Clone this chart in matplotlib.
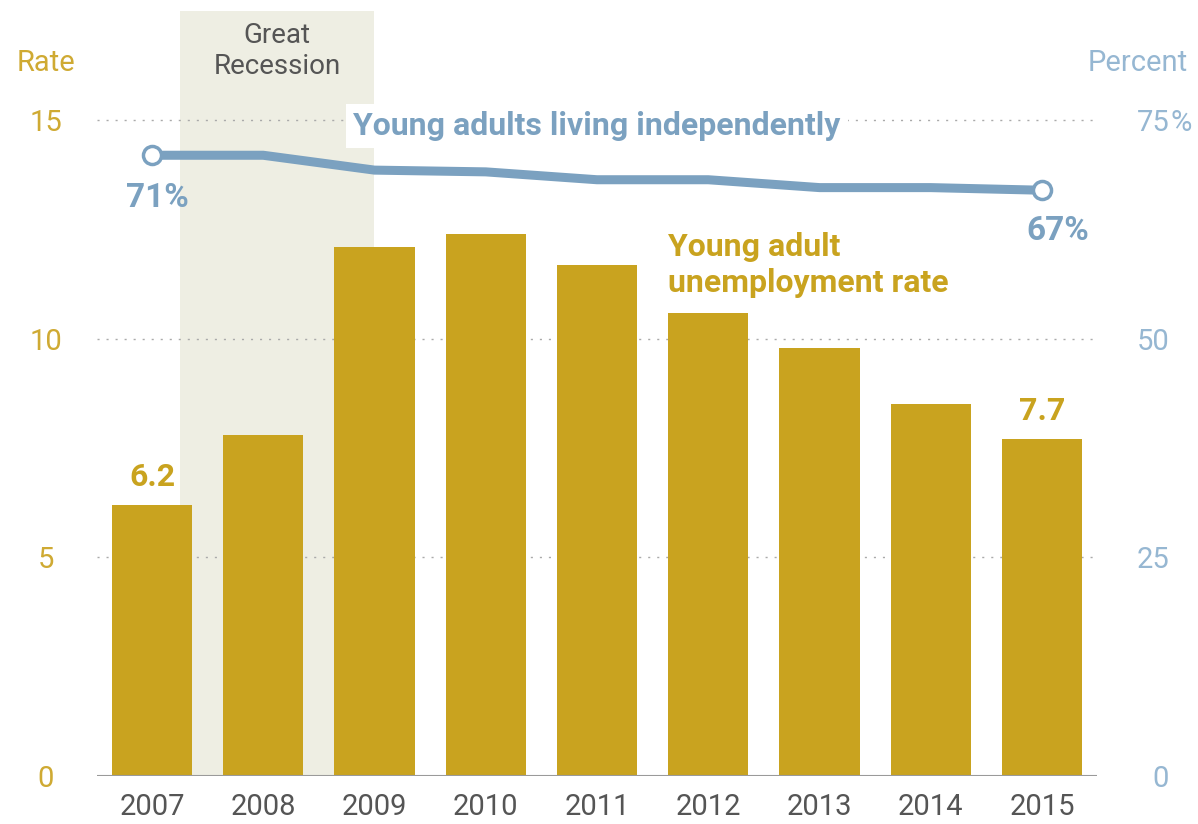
import matplotlib.pyplot as plt
from matplotlib.patches import Rectangle
import matplotlib.transforms as mtransforms

plt.rcParams['font.family'] = ['Roboto', 'DejaVu Sans']

# 数据
years = ['2007', '2008', '2009', '2010', '2011', '2012', '2013', '2014', '2015']
unemployment_rate = [6.2, 7.8, 12.1, 12.4, 11.7, 10.6, 9.8, 8.5, 7.7]
living_independently = [71, 71, 69.3, 69.1, 68.2, 68.2, 67.3, 67.3, 67]
left_ticks = [0, 5, 10, 15]
right_ticks = [0, 25, 50, 75]

GOLD = '#C9A31F'
GOLD_TXT = '#CFAA33'
BLUE = '#7BA1C0'
BLUE_TXT = '#96B7D2'
SHADE = '#EEEEE3'
GRAY = '#555555'

fig = plt.figure(figsize=(11.98, 8.24), dpi=100)
ax = fig.add_axes([97 / 1198, 48 / 824, 1000 / 1198, (813 - 48) / 824])
x = list(range(len(years)))

# 经济衰退阴影
trans = mtransforms.blended_transform_factory(ax.transData, ax.transAxes)
ax.add_patch(Rectangle((0.25, 0), 1.75, 1.0, transform=trans, color=SHADE, zorder=0, lw=0))
ax.text(1.125, 1.0 - 11 / 765, 'Great\nRecession', transform=trans, ha='center', va='top',
        fontsize=20, color=GRAY, linespacing=1.2)

# 网格线
for t in left_ticks[1:]:
    ax.axhline(t, color='#AAAAAA', lw=1.0, linestyle=(0, (1.5, 5)), zorder=1)

ax.bar(x, unemployment_rate, width=0.72, color=GOLD, zorder=2)
ax.axhline(0, color='#9A9A9A', lw=1.5, zorder=3)

ax.set_xlim(-0.494, 8.494)
ax.set_ylim(0, 17.5)

# 右轴
ax2 = ax.twinx()
ax2.set_ylim(0, 87.5)
ax2.plot(x, living_independently, color=BLUE, lw=6.5, solid_capstyle='butt', zorder=4)
ax2.plot([x[0], x[-1]], [living_independently[0], living_independently[-1]], 'o',
         ms=13, mfc='white', mec=BLUE, mew=2.5, zorder=5, linestyle='none')

for a in (ax, ax2):
    for s in a.spines.values():
        s.set_visible(False)

ax.set_xticks(x)
ax.set_xticklabels(years, fontsize=21, color=GRAY)
ax.tick_params(axis='x', length=0, pad=12)
ax.set_yticks(left_ticks)
ax.set_yticklabels([str(t) for t in left_ticks], fontsize=21, color=GOLD_TXT, ha='center')
ax.tick_params(axis='y', length=0, pad=37)
ax2.set_yticks(right_ticks)
ax2.set_yticklabels([str(t) for t in right_ticks], fontsize=21, color=BLUE_TXT, ha='right')
ax2.tick_params(axis='y', length=0, pad=52)
# 75 后面的百分号
trans2 = mtransforms.blended_transform_factory(fig.transFigure, ax2.transData)
ax2.text(1170 / 1198, right_ticks[-1], '%', transform=trans2, fontsize=21, color=BLUE_TXT,
         ha='left', va='center_baseline')

# 标注
fig.text(46 / 1198, 1 - 63 / 824, 'Rate', fontsize=21, color=GOLD_TXT, ha='center', va='center')
fig.text(1138 / 1198, 1 - 63 / 824, 'Percent', fontsize=21, color=BLUE_TXT, ha='center', va='center')

ax.text(x[0], unemployment_rate[0] + 0.3, f'{unemployment_rate[0]}', ha='center', va='bottom',
        fontsize=23, fontweight='bold', color=GOLD)
ax.text(x[-1], unemployment_rate[-1] + 0.3, f'{unemployment_rate[-1]}', ha='center', va='bottom',
        fontsize=23, fontweight='bold', color=GOLD)
ax.text(4.64, 11.68, 'Young adult\nunemployment rate', ha='left', va='center', fontsize=23,
        fontweight='bold', color=GOLD, linespacing=1.25, zorder=6)

ax2.text(x[0] + 0.05, living_independently[0] - 4.9, f'{living_independently[0]}%', ha='center', va='center',
         fontsize=24, fontweight='bold', color=BLUE)
ax2.text(8.14, living_independently[-1] - 4.7, f'{living_independently[-1]}%', ha='center', va='center',
         fontsize=24, fontweight='bold', color=BLUE)
ax2.text(4.0, 74.4, 'Young adults living independently', ha='center', va='center', fontsize=23,
         fontweight='bold', color=BLUE, zorder=6,
         bbox=dict(facecolor='white', edgecolor='none', pad=5))

fig.savefig('out.png', dpi=100, facecolor='white')
